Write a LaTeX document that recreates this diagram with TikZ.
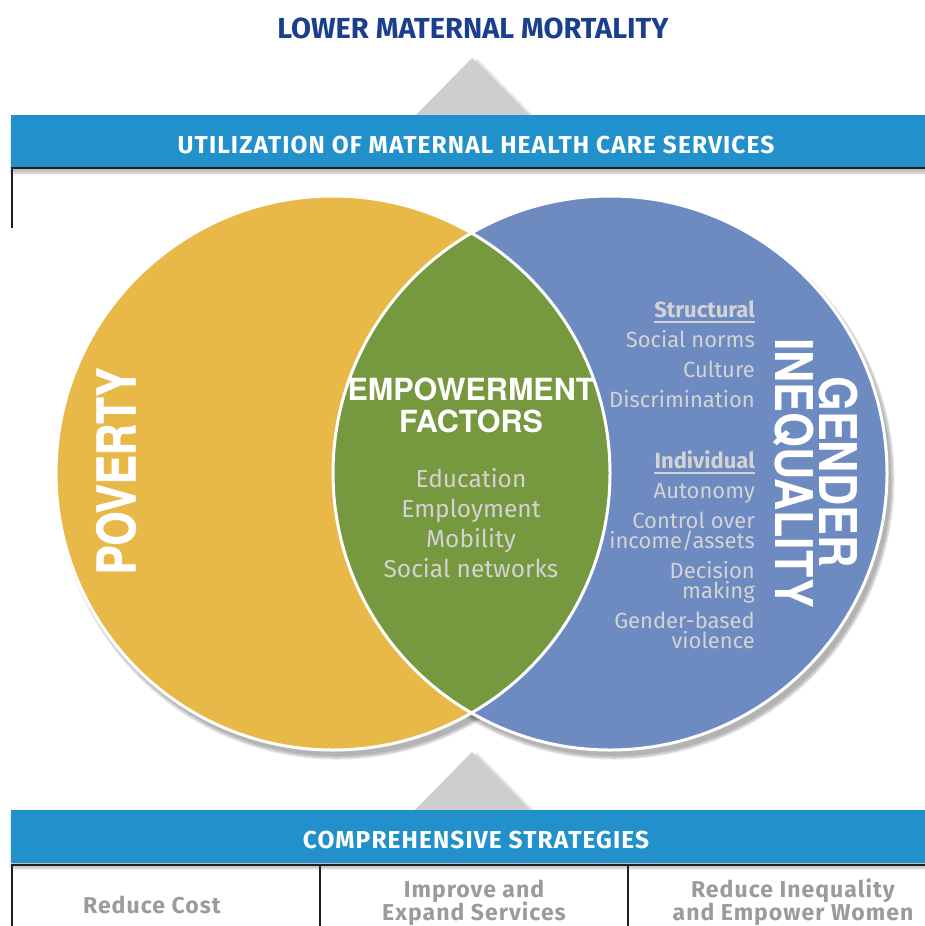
\documentclass[tikz,border=0pt]{standalone}
\usepackage{fontspec}
\setmainfont{Fira Sans}
\newfontfamily\headfont[LetterSpace=4.5]{Fira Sans}
\newfontfamily\arialfont{TeX Gyre Heros}
\newfontfamily\povfont[FakeStretch=0.82,FakeBold=1.2]{TeX Gyre Heros}
\newfontfamily\genfont[FakeStretch=0.86]{TeX Gyre Heros}
\usetikzlibrary{positioning,shadows.blur}

\definecolor{barblue}{HTML}{2290CA}
\definecolor{titleblue}{HTML}{1B3F8F}
\definecolor{povcol}{HTML}{E8B849}
\definecolor{gendcol}{HTML}{6D8BC0}
\definecolor{lenscol}{HTML}{76983F}
\definecolor{trigray}{HTML}{CDCED0}
\definecolor{itemgray}{HTML}{D3D3D3}
\definecolor{cellgray}{HTML}{9B9B9B}
\definecolor{rulecol}{HTML}{231F20}

\begin{document}
\begin{tikzpicture}[x=1pt,y=-1pt,
    bar/.style={fill=barblue,draw=none,anchor=north west,minimum width=920pt,minimum height=53pt,inner sep=0pt,
      blur shadow={shadow xshift=0pt,shadow yshift=-5pt,shadow opacity=25,shadow blur steps=8}},
    bartext/.style={anchor=base,inner sep=0pt,text=white,font=\headfont\bfseries\fontsize{24.5}{24.5}\selectfont},
    rule/.style={draw=rulecol,line width=2pt},
    arrowtri/.style={fill=trigray,blur shadow={shadow xshift=5pt,shadow yshift=-2pt,shadow opacity=20,shadow blur steps=8}},
    item/.style={inner sep=0pt,text=itemgray,font=\fontsize{22}{22}\selectfont},
    itemhead/.style={item,font=\bfseries\fontsize{22}{22}\selectfont},
    uline/.style={draw=itemgray,line width=1.6pt},
    cell/.style={anchor=base,inner sep=0pt,text=cellgray,font=\headfont\bfseries\fontsize{23}{23}\selectfont}
    ]

    \useasboundingbox (0,0) rectangle (925,926);

    % goal and arrows
    \node (goal) [anchor=base,inner sep=0pt,text=titleblue,font=\bfseries\fontsize{29}{29}\selectfont] at (473,38) {LOWER MATERNAL MORTALITY};
    \fill[arrowtri] (415,116) -- (472,58) -- (529,116) -- cycle;
    \fill[arrowtri] (414,811) -- (472,752) -- (530,811) -- cycle;

    % top bar
    \node (topbar) [bar] at (11,115) {};
    \node (util) [bartext] at (476,153) {UTILIZATION OF MATERNAL HEALTH CARE SERVICES};
    \draw[rule] (11,168) -- (930,168);
    \draw[rule] (12,168) -- (12,228);

    % circles
    \path[blur shadow={shadow xshift=4pt,shadow yshift=-6pt,shadow opacity=30,shadow blur steps=10}] (333,473) circle[radius=279pt];
    \path[blur shadow={shadow xshift=4pt,shadow yshift=-6pt,shadow opacity=30,shadow blur steps=10}] (610,473) circle[radius=279pt];
    \fill[povcol] (333,473) circle[radius=277pt];
    \fill[gendcol] (610,473) circle[radius=277pt];
    \begin{scope}
      \clip (333,473) circle[radius=277pt];
      \fill[lenscol] (610,473) circle[radius=277pt];
    \end{scope}
    \draw[white,line width=3pt] (333,473) circle[radius=277pt];
    \draw[white,line width=3pt] (610,473) circle[radius=277pt];

    \node (pov) [rotate=90,inner sep=0pt,text=white,font=\povfont\bfseries\fontsize{53}{53}\selectfont] at (116,471) {POVERTY};
    \node (gend) [rotate=-90,inner sep=0pt,text=white,font=\genfont\bfseries\fontsize{52}{52}\selectfont] at (838,472) {GENDER};
    \node (ineq) [rotate=-90,inner sep=0pt,text=white,font=\genfont\bfseries\fontsize{52}{52}\selectfont] at (794,473) {INEQUALITY};

    \node (emp) [anchor=base,inner sep=0pt,text=white,font=\arialfont\bfseries\fontsize{30.5}{30.5}\selectfont] at (471,400) {EMPOWERMENT};
    \node (fac) [anchor=base,inner sep=0pt,text=white,font=\arialfont\bfseries\fontsize{30.5}{30.5}\selectfont] at (471,432) {FACTORS};

    \foreach \y/\t in {487/Education,517/Employment,547/Mobility,577/Social networks}
      \node (e\y) [item,anchor=base,font=\fontsize{24.5}{24.5}\selectfont] at (471,\y) {\t};

    \node (struct) [itemhead,anchor=base east] at (755,317) {Structural};
    \node (indiv) [itemhead,anchor=base east] at (755,468) {Individual};
    \draw[uline] ([yshift=-5pt]struct.base west) -- ([yshift=-5pt]struct.base east);
    \draw[uline] ([yshift=-5pt]indiv.base west) -- ([yshift=-5pt]indiv.base east);

    \foreach \y/\t in {347/Social norms,377/Culture,407/Discrimination,498/Autonomy,528/Control over,548/{income/assets},578/Decision,598/making,628/Gender-based,648/violence}
      \node (r\y) [item,anchor=base east] at (755,\y) {\t};

    % bottom bar
    \node (botbar) [bar] at (11,810) {};
    \node (strat) [bartext] at (476,848) {COMPREHENSIVE STRATEGIES};
    \draw[rule] (11,865) -- (930,865);
    \foreach \x in {12,320,628}
      \draw[rule] (\x,865) -- (\x,930);

    \node (cost) [cell] at (152,913) {Reduce Cost};
    \node (impr) [cell] at (474,897) {Improve and};
    \node (expa) [cell] at (474,920) {Expand Services};
    \node (redu) [cell] at (793,897) {Reduce Inequality};
    \node (empw) [cell] at (793,920) {and Empower Women};

  \end{tikzpicture}
\end{document}
